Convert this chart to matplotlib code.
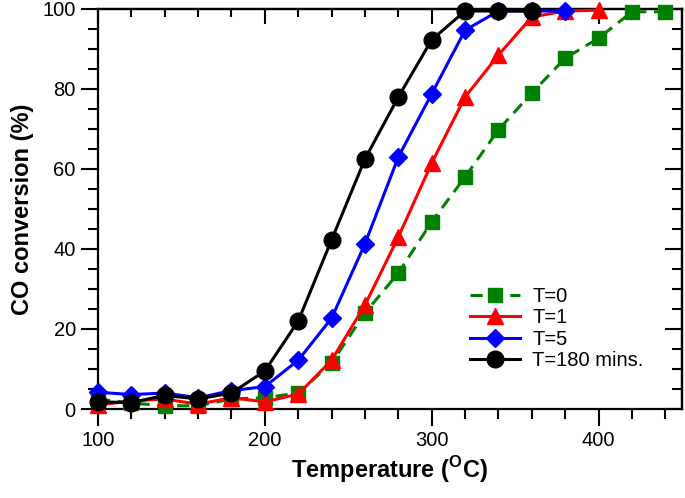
import matplotlib
matplotlib.use('Agg')
import matplotlib.pyplot as plt
from matplotlib.ticker import MultipleLocator

plt.rcParams['font.family'] = ['Liberation Sans', 'DejaVu Sans']
plt.rcParams['mathtext.fontset'] = 'custom'
plt.rcParams['mathtext.rm'] = 'Liberation Sans'
plt.rcParams['mathtext.bf'] = 'Liberation Sans:bold'

# temperatures (deg C) and CO conversion (%)
temp_t0 = [100, 120, 140, 160, 180, 200, 220, 240, 260, 280, 300, 320, 340, 360, 380, 400, 420, 440]
conv_t0 = [2.5, 1.5, 0.8, 0.8, 2.5, 2.8, 4.0, 11.5, 24.0, 34.0, 46.8, 58.0, 69.8, 79.0, 87.7, 92.7, 99.3, 99.3]

temp_t1 = [100, 120, 140, 160, 180, 200, 220, 240, 260, 280, 300, 320, 340, 360, 380, 400]
conv_t1 = [1.0, 2.0, 2.5, 1.2, 2.8, 1.8, 3.7, 12.2, 26.0, 43.0, 61.5, 78.0, 88.5, 98.0, 99.5, 99.7]

temp_t5 = [100, 120, 140, 160, 180, 200, 220, 240, 260, 280, 300, 320, 340, 360, 380]
conv_t5 = [4.2, 3.6, 4.0, 2.8, 4.6, 5.6, 12.2, 22.7, 41.3, 63.0, 78.8, 94.7, 99.5, 99.5, 99.5]

temp_t180 = [100, 120, 140, 160, 180, 200, 220, 240, 260, 280, 300, 320, 340, 360]
conv_t180 = [1.8, 1.6, 3.4, 2.5, 4.0, 9.5, 22.0, 42.3, 62.5, 78.0, 92.3, 99.5, 99.5, 99.5]

series = [
    (temp_t0, conv_t0, 'T=0', 'green', 's', 9.5, '--'),
    (temp_t1, conv_t1, 'T=1', 'red', '^', 11, '-'),
    (temp_t5, conv_t5, 'T=5', 'blue', 'D', 9, '-'),
    (temp_t180, conv_t180, 'T=180 mins.', 'black', 'o', 12, '-'),
]

fig = plt.figure(figsize=(6.85, 4.98), dpi=100)
ax = fig.add_axes([98/685, 89/498, 584/685, 400/498])

for x, y, lab, col, mk, ms, ls in series:
    ax.plot(x, y, linestyle=ls, color=col, marker=mk, markersize=ms,
            linewidth=2.2, label=lab, clip_on=False, zorder=3,
            dashes=(4, 2.5) if ls == '--' else (None, None))

ax.set_xlim(100, 450)
ax.set_ylim(0, 100)
ax.xaxis.set_major_locator(MultipleLocator(100))
ax.xaxis.set_minor_locator(MultipleLocator(20))
ax.yaxis.set_major_locator(MultipleLocator(20))
ax.yaxis.set_minor_locator(MultipleLocator(5))

for s in ax.spines.values():
    s.set_linewidth(1.6)

ax.tick_params(which='both', direction='out', width=1.5, top=False, right=False,
               labelsize=14.5)
ax.tick_params(which='major', length=12, pad=4)
ax.tick_params(which='minor', length=7)

# mirrored ticks pointing inwards on top and right
top = ax.secondary_xaxis('top')
top.xaxis.set_major_locator(MultipleLocator(100))
top.xaxis.set_minor_locator(MultipleLocator(20))
top.tick_params(which='both', direction='in', width=1.5, labeltop=False)
top.tick_params(which='major', length=11)
top.tick_params(which='minor', length=6)
right = ax.secondary_yaxis('right')
right.yaxis.set_major_locator(MultipleLocator(20))
right.yaxis.set_minor_locator(MultipleLocator(5))
right.tick_params(which='both', direction='in', width=1.5, labelright=False)
right.tick_params(which='major', length=12)
right.tick_params(which='minor', length=7)
for sa in (top, right):
    for s in sa.spines.values():
        s.set_linewidth(1.6)

ax.set_xlabel(r'Temperature ($^{\mathbf{O}}$C)', fontsize=17, fontweight='bold', labelpad=3)
ax.set_ylabel('CO conversion (%)', fontsize=17, fontweight='bold', labelpad=6)

ax.legend(loc='upper left', bbox_to_anchor=(0.637, 0.305), frameon=False,
          fontsize=14.5, handlelength=2.5, handletextpad=0.6, labelspacing=0.12,
          borderpad=0, borderaxespad=0)

fig.savefig('out.png', dpi=100)
